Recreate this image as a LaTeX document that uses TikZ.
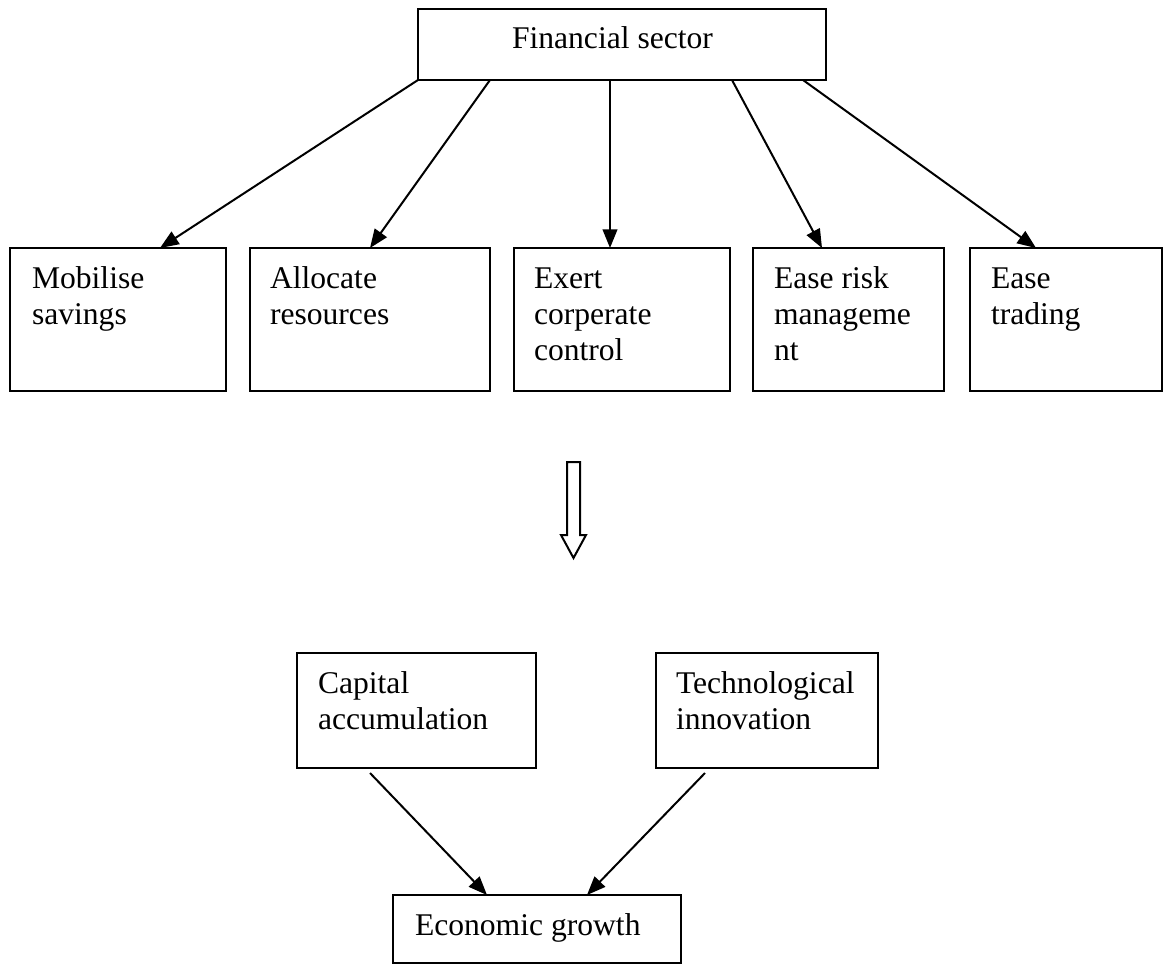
\documentclass[tikz,border=0pt]{standalone}
\usepackage{fontspec}
\setmainfont{Liberation Serif}
\usetikzlibrary{arrows.meta,calc}
\begin{document}
\begin{tikzpicture}[x=0.75pt,y=-0.75pt,
  box/.style={draw, line width=1.5pt, inner sep=0pt, outer sep=0pt, anchor=north west},
  lbl/.style={anchor=north west, inner sep=0pt, outer sep=0pt, align=left,
    font=\fontsize{23.7pt}{27.2pt}\selectfont},
  arr/.style={line width=1.5pt, -{Triangle[length=14pt,width=11pt]}}]
\useasboundingbox (0,0) rectangle (1164,967);

% boxes
\node[box, minimum width=306pt, minimum height=53.25pt] (top) at (418,9) {};
\node[box, minimum width=162pt, minimum height=107.25pt] (b1) at (10,248) {};
\node[box, minimum width=180pt, minimum height=107.25pt] (b2) at (250,248) {};
\node[box, minimum width=162pt, minimum height=107.25pt] (b3) at (514,248) {};
\node[box, minimum width=143.25pt, minimum height=107.25pt] (b4) at (753,248) {};
\node[box, minimum width=144pt, minimum height=107.25pt] (b5) at (970,248) {};
\node[box, minimum width=179.25pt, minimum height=86.25pt] (cap) at (297,653) {};
\node[box, minimum width=166.5pt, minimum height=86.25pt] (tech) at (656,653) {};
\node[box, minimum width=216pt, minimum height=51pt] (eg) at (393,895) {};

% labels
\node[lbl] (ttop) at (512,22.33) {\rule{0pt}{20pt}Financial sector};
\node[lbl] (t1) at (32,261.33) {\rule{0pt}{20pt}Mobilise\\savings};
\node[lbl] (t2) at (270,261.33) {\rule{0pt}{20pt}Allocate\\resources};
\node[lbl] (t3) at (534,261.33) {\rule{0pt}{20pt}Exert\\corperate\\control};
\node[lbl] (t4) at (774,261.33) {\rule{0pt}{20pt}Ease risk\\manageme\\nt};
\node[lbl] (t5) at (991,261.33) {\rule{0pt}{20pt}Ease\\trading};
\node[lbl] (tcap) at (318,666.33) {\rule{0pt}{20pt}Capital\\accumulation};
\node[lbl] (ttech) at (676,666.33) {\rule{0pt}{20pt}Technological\\innovation};
\node[lbl] (teg) at (415,908.33) {\rule{0pt}{20pt}Economic growth};

% connectors
\draw[arr] (top.south west) -- ($(b1.north west)+(150,0)$);
\draw[arr] ($(top.south west)+(72,0)$) -- ($(b2.north west)+(120,0)$);
\draw[arr] ($(top.south west)+(192,0)$) -- ($(b3.north west)+(96,0)$);
\draw[arr] ($(top.south west)+(314,0)$) -- ($(b4.north west)+(69,0)$);
\draw[arr] ($(top.south west)+(385,0)$) -- ($(b5.north west)+(66,0)$);
\draw[arr] ($(cap.south west)+(73,5)$) -- ($(eg.north west)+(94,0)$);
\draw[arr] ($(tech.south west)+(49,5)$) -- ($(eg.north west)+(194,0)$);

% hollow block arrow
\draw[line width=1.5pt, line join=miter] (567,462) -- (580,462) -- (580,535) -- (586,535)
  -- (573.5,558) -- (561,535) -- (567,535) -- cycle;
\end{tikzpicture}
\end{document}
